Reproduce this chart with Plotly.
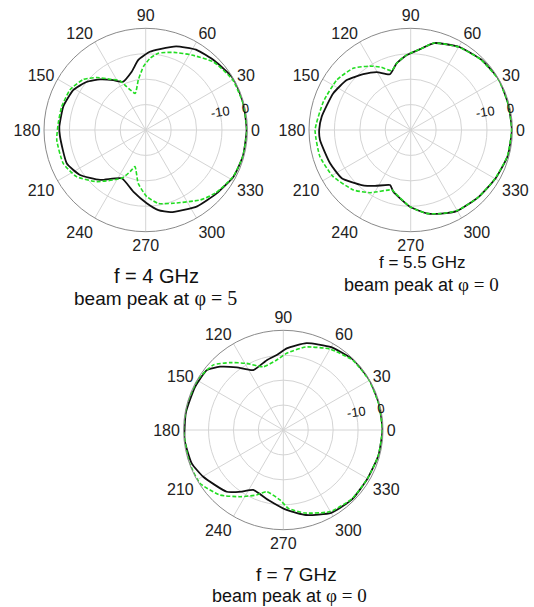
import plotly.graph_objects as go

# ---------------- data (dB, angle in degrees) ----------------
titles_f = ["f = 4 GHz", "f = 5.5 GHz", "f = 7 GHz"]
titles_peak = ["5", "0", "0"]

angle_ticks = list(range(0, 360, 30))
angle_ticktext = [str(a) for a in angle_ticks]

p1_black_theta = [0, 15, 30, 45, 58, 70, 80, 87, 96, 103.5, 115.5, 123, 132, 141, 151, 164, 178,
                  184.5, 203, 214.4, 227.6, 243.6, 258.6, 270.8, 279, 287, 304, 318, 332, 345, 360]
p1_black_db = [-0.3, -0.2, 0, -1.6, -2.7, -5, -7.7, -9.2, -12.3, -16.4, -19, -16.6, -13.2, -10, -7.5, -6.3, -6,
               -6.2, -6.3, -8.7, -13.4, -18.8, -15.3, -11.2, -8.1, -6.2, -3.8, -2.6, -0.9, -0.4, -0.3]
p1_green_theta = [0, 15, 30, 45, 58.5, 70, 80.7, 86.6, 92, 98.4, 106, 113.7, 117.5, 125, 133, 141, 152, 164.5,
                  175.6, 186.4, 202, 214, 226.5, 243.6, 249.4, 253.7, 262, 270.9, 279.8, 290.7, 308, 318, 332,
                  345, 360]
p1_green_db = [-0.2, -0.3, -0.5, -2.2, -5.4, -7.5, -9.4, -11.8, -15, -20.1, -25, -21.4, -18.1, -15.6, -11.8,
               -8.4, -6.3, -5.7, -5.5, -4.8, -5, -7.2, -12, -18.8, -22.5, -25, -18.8, -13.8, -10.7, -9.2, -5.1,
               -3, -1, -0.4, -0.2]

p2_black_theta = [0, 15, 30, 45, 60, 75, 83.4, 93, 101.9, 110.4, 120.5, 130.4, 142, 154.6, 171.5, 180, 186.3,
                  202.4, 215, 228.3, 237.5, 249.4, 254.3, 269.5, 280.9, 290, 300, 315, 330, 345, 360]
p2_black_db = [-0.2, -0.3, 0, -0.8, -2.2, -4.6, -8.0, -10.5, -13.2, -16.6, -13.6, -11.2, -8.1, -6.3, -4.6, -4.0,
               -4.1, -5.7, -6.9, -11, -13.9, -16.9, -14.8, -9.8, -6.6, -5, -3.3, -2.5, -1.6, -0.5, -0.2]
p2_green_theta = [0, 15, 30, 45, 60, 75, 83.4, 93, 101.9, 107.8, 115, 122.5, 133, 146, 162, 180, 196.4, 211,
                  226.3, 237, 252.4, 256, 269.5, 280.9, 290, 300, 315, 330, 345, 360]
p2_green_db = [-0.3, -0.3, -0.2, -0.9, -2.3, -4.6, -8.0, -10.4, -13.2, -15.5, -12.8, -10.2, -6.8, -4.9, -3.9,
               -2.4, -2.8, -4.4, -7.4, -10.6, -15.3, -14.5, -9.8, -6.6, -5, -3.4, -2.5, -1.7, -0.6, -0.3]

p3_black_theta = [0, 15, 30, 45, 60, 75, 87.6, 95, 103.3, 116.6, 126.6, 135, 142, 153.9, 170, 185.7, 200,
                  210.3, 227.5, 236, 243.4, 257.9, 272.4, 285, 300, 315, 330, 345, 360]
p3_black_db = [-0.2, -0.2, 0, -0.2, -1.6, -3.9, -7.2, -9.8, -11.2, -13.1, -8.7, -4.1, -1.0, -0.6, -0.3, -0.2,
               -0.9, -2.8, -6.4, -10.2, -13.1, -11.3, -7.9, -4.7, -1.6, -0.8, -1.0, -0.5, -0.2]
p3_green_theta = [0, 15, 30, 45, 60, 75, 87.5, 95.4, 107.5, 118.8, 128.4, 137, 149, 165, 180, 199, 212.6,
                  225.8, 237, 247.7, 254.9, 267.3, 273.7, 285, 300, 315, 330, 345, 360]
p3_green_db = [-0.3, -0.3, -0.2, -0.5, -2.5, -5.5, -9.2, -11.8, -13.4, -9.5, -5.5, -1.7, -0.2, 0, 0, -0.1, -0.3,
               -3.6, -8.1, -11.8, -14.4, -11.9, -8.5, -5.5, -2.2, -1.0, -1.0, -0.5, -0.3]

radial_ticks = [-30, -20, -10, 0]
radial_ticktext = ["", "", "-10", "0"]

# ---------------- figure ----------------
fig = go.Figure()
curves = [
    ("polar", p1_black_theta, p1_black_db, p1_green_theta, p1_green_db),
    ("polar2", p2_black_theta, p2_black_db, p2_green_theta, p2_green_db),
    ("polar3", p3_black_theta, p3_black_db, p3_green_theta, p3_green_db),
]
for sub, bt, bd, gt, gd in curves:
    fig.add_trace(go.Scatterpolar(theta=bt, r=bd, mode="lines", subplot=sub, showlegend=False,
                                  line=dict(color="#111111", width=1.8, shape="spline", smoothing=0.5)))
    fig.add_trace(go.Scatterpolar(theta=gt, r=gd, mode="lines", subplot=sub, showlegend=False,
                                  line=dict(color="#22dd22", width=1.6, dash="4px,2px", shape="spline",
                                            smoothing=0.5)))

W, H = 534, 607
centers = [(145.7, 130.0, 101.7), (410.7, 130.0, 101.7), (283.3, 430.0, 99.7)]


def polar_layout(cx, cy, rad):
    return dict(
        domain=dict(x=[(cx - rad) / W, (cx + rad) / W], y=[1 - (cy + rad) / H, 1 - (cy - rad) / H]),
        bgcolor="white",
        angularaxis=dict(tickmode="array", tickvals=angle_ticks, ticktext=angle_ticktext,
                         direction="counterclockwise", rotation=0, showline=True,
                         linecolor="#8a8a8a", linewidth=1, gridcolor="#d4d4d4", gridwidth=1, ticks="",
                         tickfont=dict(family="Liberation Sans, Arial", size=16, color="#222222")),
        radialaxis=dict(range=[-40, 0], tickmode="array", tickvals=radial_ticks, ticktext=radial_ticktext,
                        showline=False, gridcolor="#d4d4d4", gridwidth=1, ticks="", angle=8,
                        side="counterclockwise", tickangle=0,
                        tickfont=dict(family="Liberation Sans, Arial", size=13, color="#111111")),
    )


layout_polars = {}
for i, (cx, cy, rad) in enumerate(centers):
    key = "polar" if i == 0 else f"polar{i + 1}"
    layout_polars[key] = polar_layout(cx, cy, rad)

# (f-line center, beam-line center, f font size, beam font size)
title_pos = [((156.7, 276.0), (155.7, 298.0), 20, 19), ((422.0, 262.5), (421.0, 284.5), 17, 18),
             ((296.7, 574.0), (289.0, 595.0), 19, 18)]
annotations = []
for (p1, p2, fs1, fs2), ft, pk in zip(title_pos, titles_f, titles_peak):
    annotations.append(dict(text=ft, x=p1[0] / W, y=1 - p1[1] / H, xref="paper", yref="paper",
                            showarrow=False, xanchor="center", yanchor="middle",
                            font=dict(family="Liberation Sans, Arial", size=fs1, color="#111111")))
    annotations.append(dict(
        text="beam peak at <span style='font-family:Liberation Serif, Times New Roman; font-size:%dpx'>"
             "\u03c6 = %s</span>" % (fs2 + 1, pk),
        x=p2[0] / W, y=1 - p2[1] / H, xref="paper", yref="paper", showarrow=False,
        xanchor="center", yanchor="middle",
        font=dict(family="Liberation Sans, Arial", size=fs2, color="#111111")))

fig.update_layout(width=W, height=H, autosize=False, margin=dict(l=0, r=0, t=0, b=0),
                  paper_bgcolor="white", plot_bgcolor="white", showlegend=False,
                  annotations=annotations, **layout_polars)

fig.write_html("out.html")
